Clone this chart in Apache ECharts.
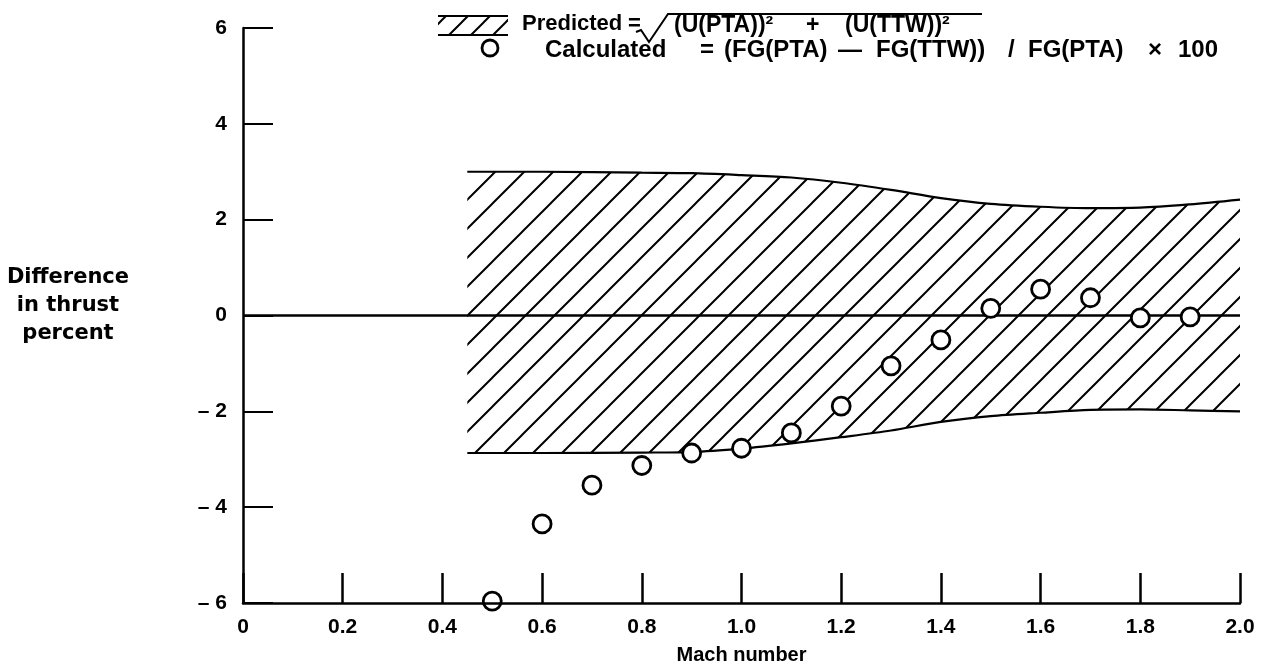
<!DOCTYPE html>
<html>
<head>
<meta charset="utf-8">
<script src="https://cdn.jsdelivr.net/npm/echarts@6/dist/echarts.min.js"></script>
<style>html,body{margin:0;padding:0;background:#fff;}#c{width:1272px;height:671px;}</style>
</head>
<body>
<div id="c"></div>
<script>
// Data
const machTicks = [0, 0.2, 0.4, 0.6, 0.8, 1.0, 1.2, 1.4, 1.6, 1.8, 2.0];
const yTicks = [-6, -4, -2, 0, 2, 4, 6];
const bandMach  = [0.45, 0.6, 0.8, 0.9, 1.0, 1.1, 1.2, 1.3, 1.4, 1.5, 1.6, 1.7, 1.8, 1.9, 2.0];
const bandLower = [-2.87, -2.87, -2.86, -2.85, -2.78, -2.67, -2.54, -2.40, -2.22, -2.10, -2.03, -1.97, -1.96, -1.98, -2.00];
const bandUpper = [3.00, 3.00, 2.98, 2.97, 2.93, 2.88, 2.77, 2.62, 2.45, 2.33, 2.27, 2.24, 2.25, 2.32, 2.42];
const calcMach  = [0.5, 0.6, 0.7, 0.8, 0.9, 1.0, 1.1, 1.2, 1.3, 1.4, 1.5, 1.6, 1.7, 1.8, 1.9];
const calcDiff  = [-5.96, -4.35, -3.54, -3.13, -2.87, -2.77, -2.45, -1.89, -1.05, -0.51, 0.15, 0.55, 0.37, -0.05, -0.03];

// Hatch pattern
function hatch(S) {
  const cv = document.createElement('canvas');
  cv.width = S; cv.height = S;
  const g = cv.getContext('2d');
  g.strokeStyle = '#000'; g.lineWidth = 2;
  g.beginPath();
  g.moveTo(-3, 3); g.lineTo(3, -3);
  g.moveTo(-1, S + 1); g.lineTo(S + 1, -1);
  g.moveTo(S - 3, S + 3); g.lineTo(S + 3, S - 3);
  g.stroke();
  return cv;
}
const pat = hatch(29);
const patSmall = hatch(22);

const FONT = '"Liberation Sans", Arial, Helvetica, sans-serif';
const chart = echarts.init(document.getElementById('c'));

function txt(t, x, y, size) {
  return { type: 'text', x: x, y: y, z: 20,
    style: { text: t, fill: '#000', font: 'bold ' + size + 'px ' + FONT, verticalAlign: 'middle' } };
}

chart.setOption({
  animation: false,
  backgroundColor: '#fff',
  grid: { left: 243, right: 32, top: 28, bottom: 68, containLabel: false },
  xAxis: {
    type: 'value', min: 0, max: 2.0, interval: 0.2, z: 10,
    name: 'Mach number', nameLocation: 'middle', nameGap: 42,
    nameTextStyle: { color: '#000', fontSize: 20, fontWeight: 'bold', fontFamily: FONT },
    axisLine: { show: true, onZero: false, lineStyle: { color: '#000', width: 2.5 } },
    axisTick: { show: true, inside: true, length: 30, lineStyle: { color: '#000', width: 2.5 } },
    axisLabel: { color: '#000', fontSize: 21, fontWeight: 'bold', fontFamily: FONT, margin: 14,
      formatter: v => (Math.abs(v) < 1e-9 ? '0' : v.toFixed(1)) },
    splitLine: { show: false }
  },
  yAxis: {
    type: 'value', min: -6, max: 6, interval: 2, z: 10,
    axisLine: { show: true, onZero: false, lineStyle: { color: '#000', width: 2.5 } },
    axisTick: { show: true, inside: true, length: 30, lineStyle: { color: '#000', width: 2 } },
    axisLabel: { color: '#000', fontSize: 21, fontWeight: 'bold', fontFamily: FONT, margin: 16,
      padding: [0, 0, 8, 0],
      formatter: v => (v < 0 ? '\u2013 ' + Math.abs(v) : String(v)) },
    splitLine: { show: false }
  },
  series: [
    { name: 'PredictedBand', type: 'custom', silent: true, z: 1,
      data: bandMach.map((m, i) => [m, bandLower[i], bandUpper[i]]),
      encode: { x: 0, y: [1, 2] },
      renderItem: function (params, api) {
        if (params.dataIndex !== 0) return null;
        const up = bandMach.map((m, i) => api.coord([m, bandUpper[i]]));
        const lo = bandMach.map((m, i) => api.coord([m, bandLower[i]])).reverse();
        return { type: 'polygon', shape: { points: up.concat(lo) },
          style: { fill: { image: pat, repeat: 'repeat' }, stroke: null } };
      } },
    { name: 'Predicted', type: 'line', data: bandMach.map((m, i) => [m, bandUpper[i]]),
      smooth: 0.3, symbol: 'none', lineStyle: { color: '#000', width: 2.2 }, z: 2, silent: true },
    { name: 'PredictedLow', type: 'line', data: bandMach.map((m, i) => [m, bandLower[i]]),
      smooth: 0.3, symbol: 'none', lineStyle: { color: '#000', width: 2.2 }, z: 2, silent: true },
    { type: 'line', data: [[0, 0], [2.0, 0]], symbol: 'none',
      lineStyle: { color: '#000', width: 2.5 }, z: 3, silent: true },
    { name: 'Calculated', type: 'scatter', data: calcMach.map((m, i) => [m, calcDiff[i]]),
      symbol: 'circle', symbolSize: 18,
      itemStyle: { color: '#fff', opacity: 1, borderColor: '#000', borderWidth: 2.8 }, z: 5 }
  ],
  graphic: [
    { type: 'text', x: 68, y: 306, z: 20, style: { text: 'Difference\nin thrust\npercent', fill: '#000',
      font: 'bold 21px "DejaVu Sans", ' + FONT, align: 'center', verticalAlign: 'middle', lineHeight: 28 } },
    // Legend row 1: hatch swatch
    { type: 'rect', z: 20, shape: { x: 438, y: 16, width: 70, height: 19 },
      style: { fill: { image: patSmall, repeat: 'repeat' }, stroke: null } },
    { type: 'line', z: 20, shape: { x1: 438, y1: 16, x2: 508, y2: 16 }, style: { stroke: '#000', lineWidth: 2 } },
    { type: 'line', z: 20, shape: { x1: 438, y1: 35, x2: 508, y2: 35 }, style: { stroke: '#000', lineWidth: 2 } },
    txt('Predicted', 522, 24, 22),
    txt('=', 628, 24, 22),
    { type: 'polyline', z: 20, shape: { points: [[636, 32], [641, 30], [649, 42], [668, 14], [982, 14]] },
      style: { stroke: '#000', lineWidth: 2, fill: null } },
    txt('(U(PTA))\u00B2', 674, 26, 23),
    txt('+', 806, 26, 23),
    txt('(U(TTW))\u00B2', 845, 26, 23),
    // Legend row 2
    { type: 'circle', z: 20, shape: { cx: 490, cy: 48, r: 8 }, style: { fill: '#fff', stroke: '#000', lineWidth: 2.8 } },
    txt('Calculated', 545, 50, 24),
    txt('=', 700, 50, 24),
    txt('(FG(PTA)', 724, 50, 24),
    txt('\u2014', 838, 50, 24),
    txt('FG(TTW))', 876, 50, 24),
    txt('/', 1008, 50, 24),
    txt('FG(PTA)', 1028, 50, 24),
    txt('\u00D7', 1148, 50, 24),
    txt('100', 1178, 50, 24)
  ]
});
</script>
</body>
</html>
